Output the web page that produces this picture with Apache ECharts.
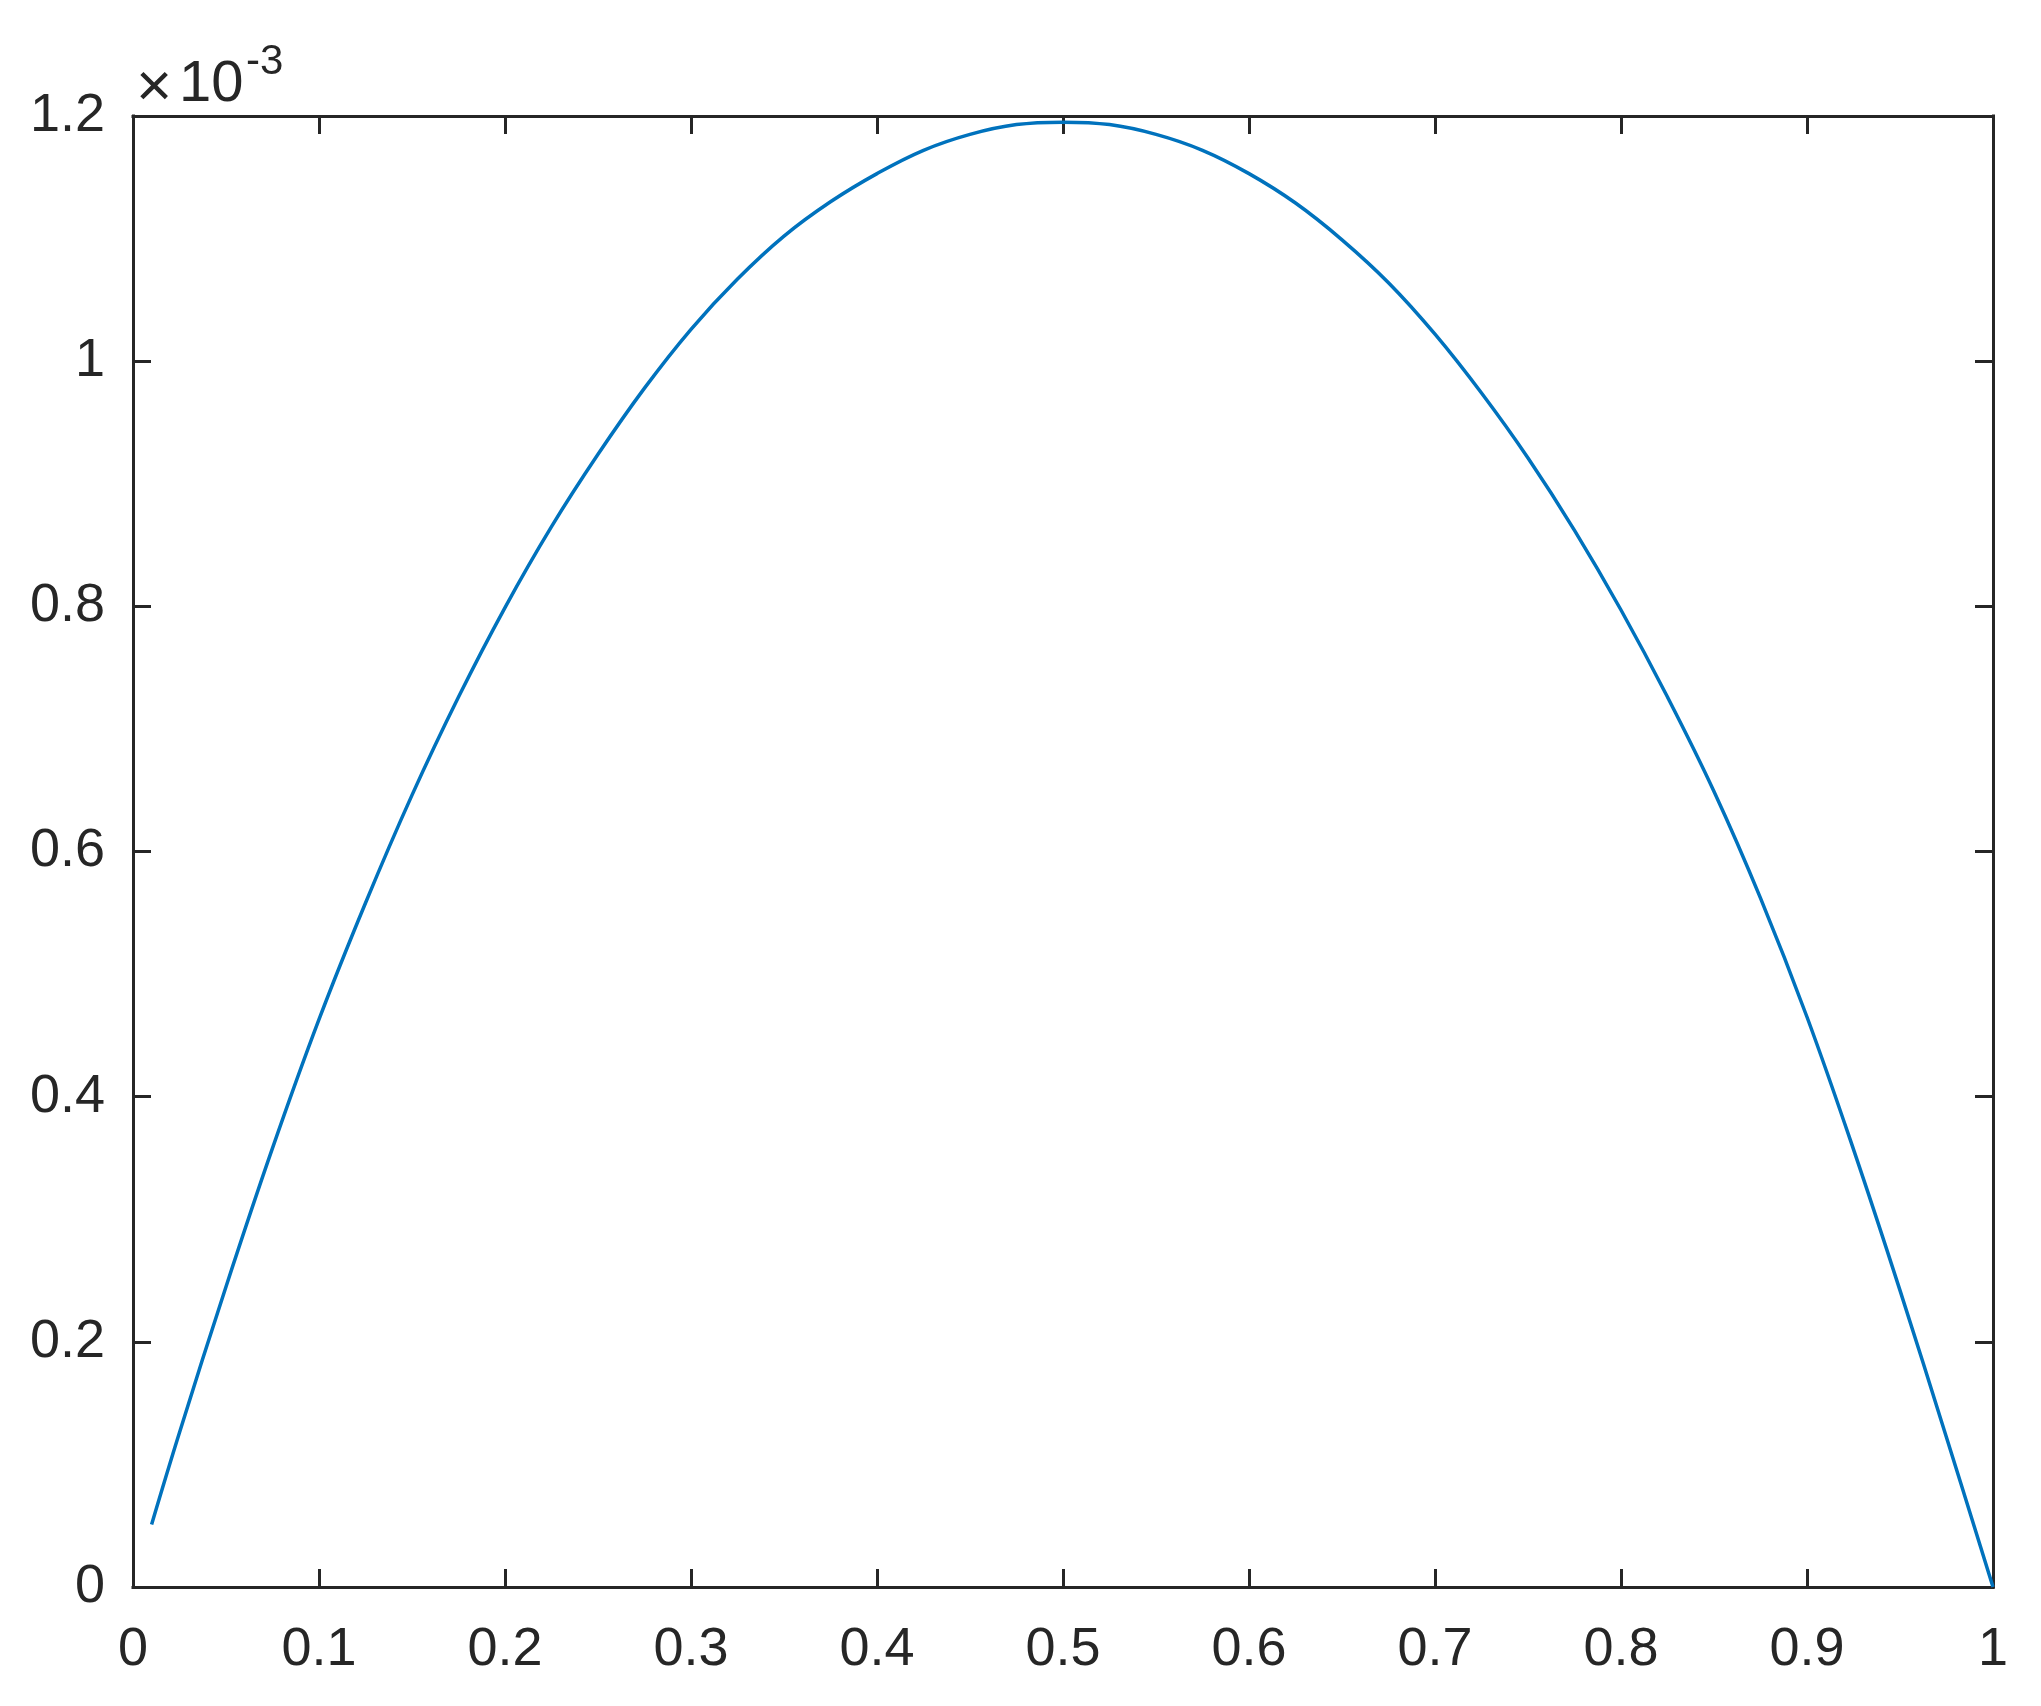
<!DOCTYPE html>
<html>
<head>
<meta charset="utf-8">
<script src="https://cdn.jsdelivr.net/npm/echarts@6/dist/echarts.min.js"></script>
<style>
  html, body { margin: 0; padding: 0; background: #fff; }
  #chart { width: 2041px; height: 1706px; }
</style>
</head>
<body>
<div id="chart"></div>
<script>
// values, y in units of 10^-3
const xValues = [0.01, 0.025, 0.05, 0.075, 0.1, 0.125, 0.15, 0.175, 0.2, 0.225, 0.25, 0.275,
  0.3, 0.325, 0.35, 0.375, 0.4, 0.425, 0.45, 0.475, 0.5, 0.525, 0.55, 0.575, 0.6, 0.625,
  0.65, 0.675, 0.7, 0.725, 0.75, 0.775, 0.8, 0.825, 0.85, 0.875, 0.9, 0.925, 0.95, 0.975, 0.99, 1.0];
const yValues = [0.051, 0.126, 0.245, 0.358, 0.463, 0.558, 0.646, 0.726, 0.799, 0.865, 0.924, 0.978,
  1.026, 1.067, 1.102, 1.130, 1.153, 1.172, 1.185, 1.193, 1.195, 1.193, 1.185, 1.172, 1.153, 1.129,
  1.099, 1.064, 1.022, 0.974, 0.921, 0.862, 0.797, 0.726, 0.649, 0.562, 0.465, 0.357, 0.242, 0.122, 0.049, 0.0];
const xTicks = { min: 0, max: 1, interval: 0.1 };
const yTicks = { min: 0, max: 1.2, interval: 0.2 };
const exponent = "-3";

const axisColor = "#262626";
const font = "Liberation Sans, Arial, Helvetica, sans-serif";

function makeAxis(ticks, position, showLabel, margin, padding) {
  return {
    type: "value",
    position: position,
    min: ticks.min,
    max: ticks.max,
    interval: ticks.interval,
    axisLine: { show: true, onZero: false, lineStyle: { color: axisColor, width: 3, cap: "square" } },
    axisTick: { show: true, inside: true, length: 18, lineStyle: { color: axisColor, width: 3 } },
    axisLabel: {
      show: showLabel,
      margin: margin,
      fontSize: 54,
      lineHeight: 54,
      padding: padding || 0,
      fontFamily: font,
      color: axisColor,
    },
    splitLine: { show: false },
  };
}

const chart = echarts.init(document.getElementById("chart"));
chart.setOption({
  animation: false,
  backgroundColor: "#ffffff",
  grid: { left: 133, right: 48, top: 116, bottom: 119, containLabel: false },
  xAxis: [makeAxis(xTicks, "bottom", true, 36), makeAxis(xTicks, "top", false, 8)],
  yAxis: [makeAxis(yTicks, "left", true, 28, [8, 0, 0, 0]), makeAxis(yTicks, "right", false, 8)],
  series: [
    {
      type: "line",
      data: xValues.map((x, i) => [x, yValues[i]]),
      showSymbol: false,
      smooth: 0.4,
      lineStyle: { color: "#0072BD", width: 3.5 },
      itemStyle: { color: "#0072BD" },
    },
  ],
  graphic: [
    {
      type: "text",
      left: 136,
      top: 58,
      style: { text: "×", font: "62px " + font, fill: axisColor },
    },
    {
      type: "text",
      left: 179,
      top: 56,
      style: { text: "10", font: "58px " + font, fill: axisColor },
    },
    {
      type: "text",
      left: 246,
      top: 41,
      style: { text: exponent, font: "42px " + font, fill: axisColor },
    },
  ],
});
window.addEventListener("resize", () => chart.resize());
</script>
</body>
</html>
